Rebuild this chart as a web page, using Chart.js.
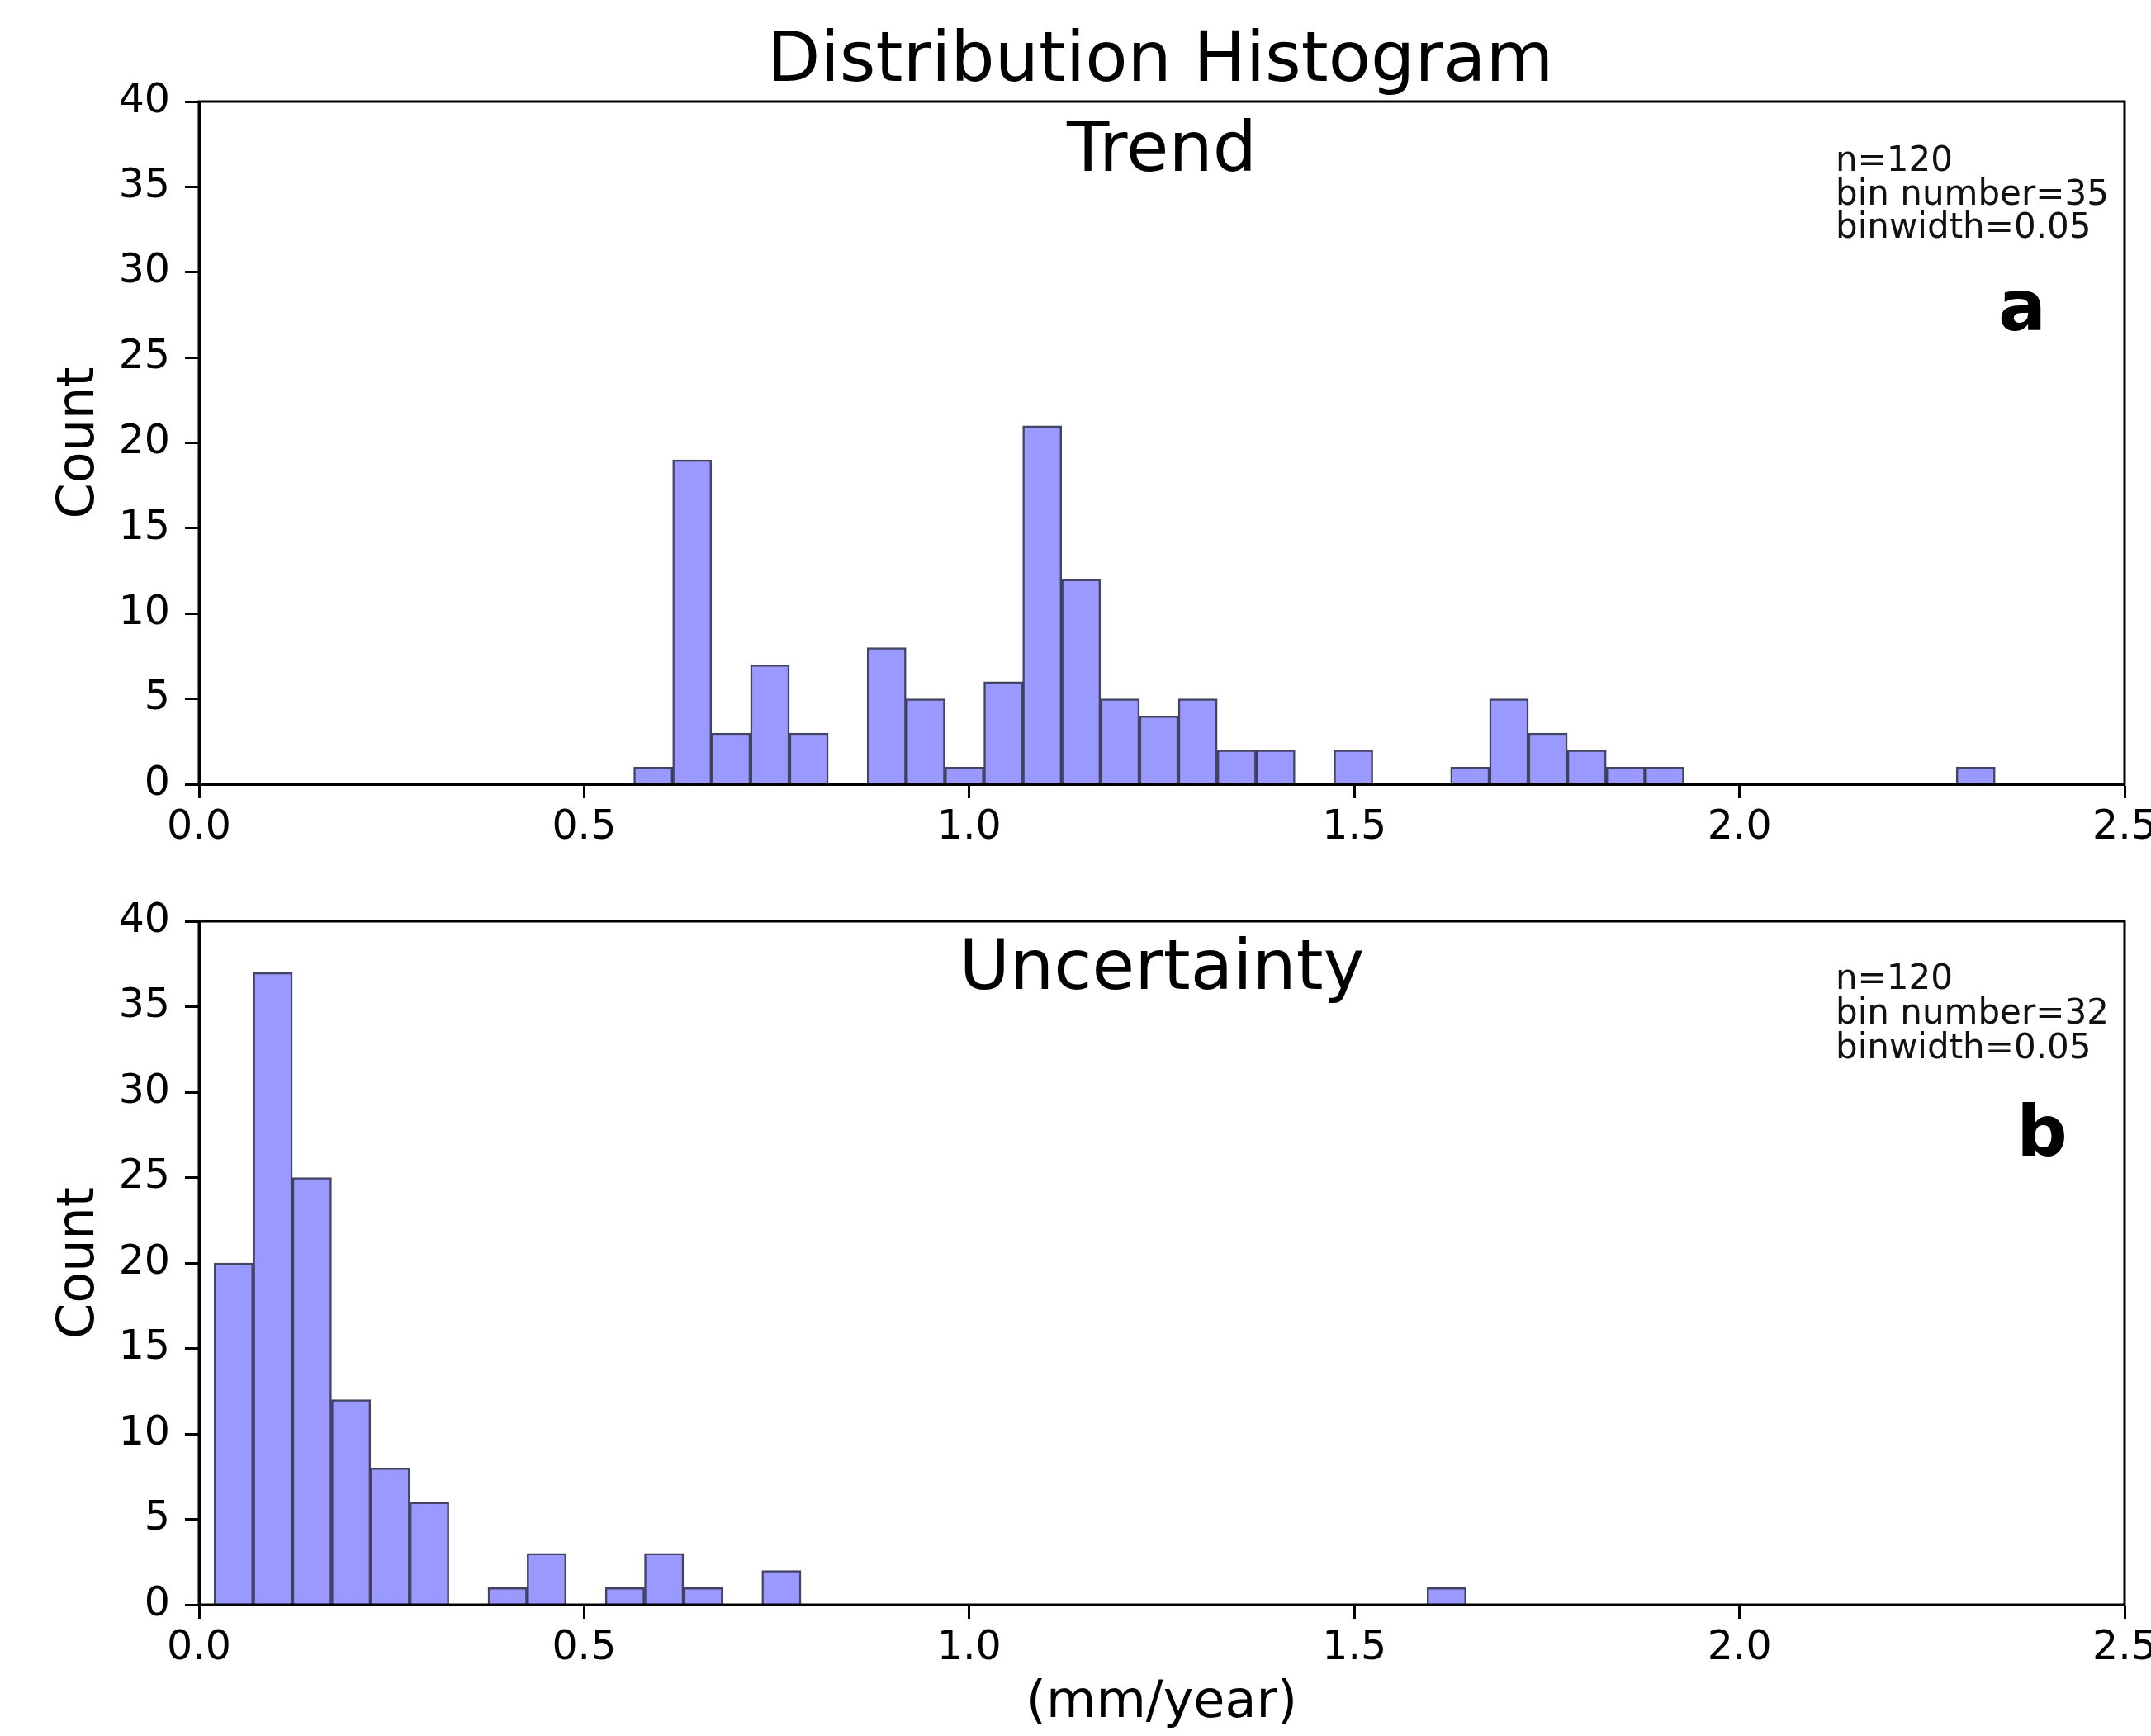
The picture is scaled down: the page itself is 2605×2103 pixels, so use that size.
<!DOCTYPE html>
<html>
<head>
<meta charset="utf-8">
<script src="https://cdn.jsdelivr.net/npm/chart.js@4.4.0/dist/chart.umd.min.js"></script>
<style>
html,body{margin:0;padding:0;background:#fff;width:2605px;height:2103px;overflow:hidden}
canvas{position:absolute;left:0}
</style>
</head>
<body>
<canvas id="c1" width="2605" height="1050" style="top:0;width:2605px;height:1050px"></canvas>
<canvas id="c2" width="2605" height="1053" style="top:1050px;width:2605px;height:1053px"></canvas>
<script>
// ---------- data ----------
const xTickValues = [0, 0.5, 1.0, 1.5, 2.0, 2.5];
const xTickLabels = ['0.0', '0.5', '1.0', '1.5', '2.0', '2.5'];
const yTickValues = [0, 5, 10, 15, 20, 25, 30, 35, 40];
const yTickLabels = ['0', '5', '10', '15', '20', '25', '30', '35', '40'];

// Trend histogram (35 bins)
const trendBinStart = 0.5645;
const trendBinWidth = 0.0505;
const trendCounts = [1, 19, 3, 7, 3, 0, 8, 5, 1, 6, 21, 12, 5, 4, 5, 2, 2, 0, 2, 0, 0, 1, 5, 3, 2, 1, 1, 0, 0, 0, 0, 0, 0, 0, 1];

// Uncertainty histogram (32 bins)
const uncBinStart = 0.0196;
const uncBinWidth = 0.0508;
const uncCounts = [20, 37, 25, 12, 8, 6, 0, 1, 3, 0, 1, 3, 1, 0, 2, 0, 0, 0, 0, 0, 0, 0, 0, 0, 0, 0, 0, 0, 0, 0, 0, 1];

const mainTitle = 'Distribution Histogram';
const panelTitles = ['Trend', 'Uncertainty'];
const panelLetters = ['a', 'b'];
const annotTrend = ['n=120', 'bin number=35', 'binwidth=0.05'];
const annotUnc = ['n=120', 'bin number=32', 'binwidth=0.05'];
const yLabel = 'Count';
const xLabel = '(mm/year)';

// ---------- helpers ----------
const FONT = "'DejaVu Sans', sans-serif";

function binPoints(start, width, counts) {
  return counts.map((c, i) => ({ x: start + (i + 0.5) * width, y: c }));
}

const textPlugin = {
  id: 'panelText',
  afterDraw(chart, args, opts) {
    const ctx = chart.ctx;
    ctx.save();
    // full frame (spines)
    const a = chart.chartArea;
    ctx.strokeStyle = '#000';
    ctx.lineWidth = 3;
    ctx.strokeRect(a.left, a.top, a.right - a.left, a.bottom - a.top);
    (opts.items || []).forEach(it => {
      ctx.font = (it.weight || 'normal') + ' ' + it.size + 'px ' + FONT;
      ctx.fillStyle = it.color || '#000';
      ctx.textAlign = it.align || 'left';
      ctx.textBaseline = 'alphabetic';
      ctx.fillText(it.text, it.x, it.y);
    });
    ctx.restore();
  }
};

function makeChart(id, points, opts) {
  const ctx = document.getElementById(id).getContext('2d');
  return new Chart(ctx, {
    type: 'bar',
    data: {
      datasets: [{
        data: points,
        backgroundColor: '#9999ff',
        borderColor: 'rgba(35,35,70,0.85)',
        borderWidth: c => (c.raw && c.raw.y > 0) ? 2.5 : 0,
        borderSkipped: 'start',
        barPercentage: 1.0,
        categoryPercentage: 1.0,
        grouped: false
      }]
    },
    options: {
      responsive: false,
      animation: false,
      devicePixelRatio: 1,
      layout: { padding: { top: opts.padTop, right: 32, bottom: 0, left: 0 } },
      plugins: {
        legend: { display: false },
        tooltip: { enabled: false },
        panelText: { items: opts.items }
      },
      scales: {
        x: {
          type: 'linear',
          min: 0,
          max: 2.5,
          offset: false,
          afterBuildTicks: s => { s.ticks = xTickValues.map(v => ({ value: v })); },
          afterFit: s => { s.height = opts.xAxisHeight; s.paddingLeft = 0; s.paddingRight = 0; },
          ticks: {
            autoSkip: false,
            maxRotation: 0,
            padding: 7,
            color: '#000',
            font: { family: FONT, size: 49 },
            callback: (v, i) => xTickLabels[i]
          },
          grid: {
            offset: false,
            drawOnChartArea: false,
            drawTicks: true,
            tickLength: 17,
            tickWidth: 3,
            tickColor: '#000',
            color: '#000'
          },
          border: { display: true, color: '#000', width: 3 },
          title: opts.xTitle ? {
            display: true,
            text: xLabel,
            color: '#000',
            font: { family: FONT, size: 62 },
            padding: { top: 0, bottom: 2 }
          } : { display: false }
        },
        y: {
          type: 'linear',
          min: 0,
          max: 40,
          afterBuildTicks: s => { s.ticks = yTickValues.map(v => ({ value: v })); },
          afterFit: s => { s.width = 241; s.paddingTop = 0; s.paddingBottom = 0; },
          ticks: {
            padding: 18,
            color: '#000',
            font: { family: FONT, size: 49 },
            callback: (v, i) => yTickLabels[i]
          },
          grid: {
            drawOnChartArea: false,
            drawTicks: true,
            tickLength: 17,
            tickWidth: 3,
            tickColor: '#000',
            color: '#000'
          },
          border: { display: true, color: '#000', width: 3 },
          title: {
            display: true,
            text: yLabel,
            color: '#000',
            font: { family: FONT, size: 62 },
            padding: { top: 60, bottom: 0 }
          }
        }
      }
    },
    plugins: [textPlugin]
  });
}

makeChart('c1', binPoints(trendBinStart, trendBinWidth, trendCounts), {
  padTop: 123,
  xAxisHeight: 100,
  xTitle: false,
  items: [
    { text: mainTitle, x: 1405, y: 98, size: 84, align: 'center' },
    { text: panelTitles[0], x: 1407, y: 207, size: 84, align: 'center' },
    { text: annotTrend[0], x: 2223, y: 207, size: 42, color: '#111' },
    { text: annotTrend[1], x: 2223, y: 248, size: 42, color: '#111' },
    { text: annotTrend[2], x: 2223, y: 288, size: 42, color: '#111' },
    { text: panelLetters[0], x: 2449, y: 400, size: 86, weight: 'bold', align: 'center' }
  ]
});

makeChart('c2', binPoints(uncBinStart, uncBinWidth, uncCounts), {
  padTop: 66,
  xAxisHeight: 159,
  xTitle: true,
  items: [
    { text: panelTitles[1], x: 1407, y: 148, size: 84, align: 'center' },
    { text: annotUnc[0], x: 2223, y: 148, size: 42, color: '#111' },
    { text: annotUnc[1], x: 2223, y: 190, size: 42, color: '#111' },
    { text: annotUnc[2], x: 2223, y: 232, size: 42, color: '#111' },
    { text: panelLetters[1], x: 2473, y: 350, size: 86, weight: 'bold', align: 'center' }
  ]
});
</script>
</body>
</html>
